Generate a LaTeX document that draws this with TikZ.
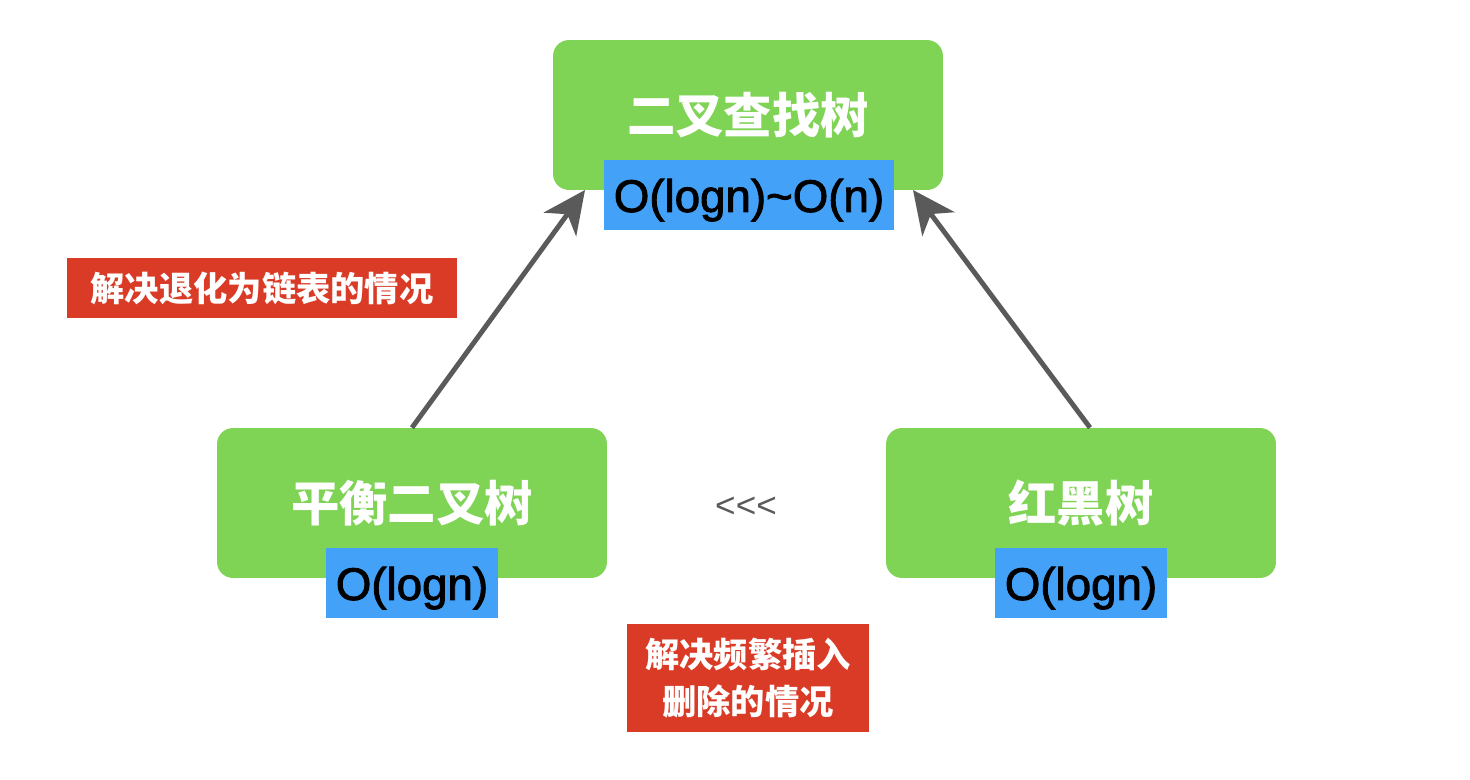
\documentclass[tikz,border=0pt]{standalone}
\usepackage{fontspec}
\setmainfont{Liberation Sans}
\newfontfamily\cjk{Noto Sans CJK SC}
\newfontfamily\costfont[FakeBold=2]{Liberation Sans}
\usetikzlibrary{arrows.meta}
\definecolor{treegreen}{HTML}{7FD355}
\definecolor{costblue}{HTML}{43A2F7}
\definecolor{notered}{HTML}{DA3B27}
\definecolor{arrgray}{HTML}{5A5A5A}

\begin{document}
\begin{tikzpicture}[x=0.02cm,y=-0.02cm,
  tree/.style={fill=treegreen, rounded corners=0.32cm, minimum width=7.8cm, minimum height=3cm,
    inner sep=0pt, text=white, font=\cjk\bfseries\fontsize{27.5}{30}\selectfont},
  cost/.style={fill=costblue, minimum height=1.4cm, inner xsep=0.2cm, inner ysep=0pt,
    text height=0.68cm, text depth=0pt, font=\costfont\fontsize{26}{30}\selectfont},
  note/.style={fill=notered, text=white, align=center, inner ysep=0pt,
    font=\cjk\bfseries\fontsize{19.5}{26.6}\selectfont},
  arr/.style={draw=arrgray, line width=2.8pt, -{Stealth[length=0.85cm, width=0.8cm, inset=0.25cm]}}]
  \useasboundingbox (0,0) rectangle (1470,780);
  \node[tree] (bst) at (748,115) {二叉查找树};
  \node[tree] (avl) at (412,503) {平衡二叉树};
  \node[tree] (rbt) at (1081,503) {红黑树};
  \node[cost] (bst-c) at (749,195) {O(logn)\textasciitilde O(n)};
  \node[cost] (avl-c) at (412,583) {O(logn)};
  \node[cost] (rbt-c) at (1081,583) {O(logn)};
  \node[note, minimum width=7.8cm, minimum height=1.2cm] (fix1) at (262,288) {解决退化为链表的情况};
  \node[note, minimum width=4.84cm, minimum height=2.16cm] (fix2) at (748,678) {解决频繁插入\\删除的情况};
  \node[text=arrgray, font=\fontsize{20}{24}\selectfont] (lt) at (746,507) {{<}{<}{<}};
  \coordinate (bst-l) at (585,190);
  \coordinate (bst-r) at (913,190);
  \draw[arr] (avl.north) -- (bst-l);
  \draw[arr] ([xshift=0.18cm]rbt.north) -- (bst-r);
\end{tikzpicture}
\end{document}
